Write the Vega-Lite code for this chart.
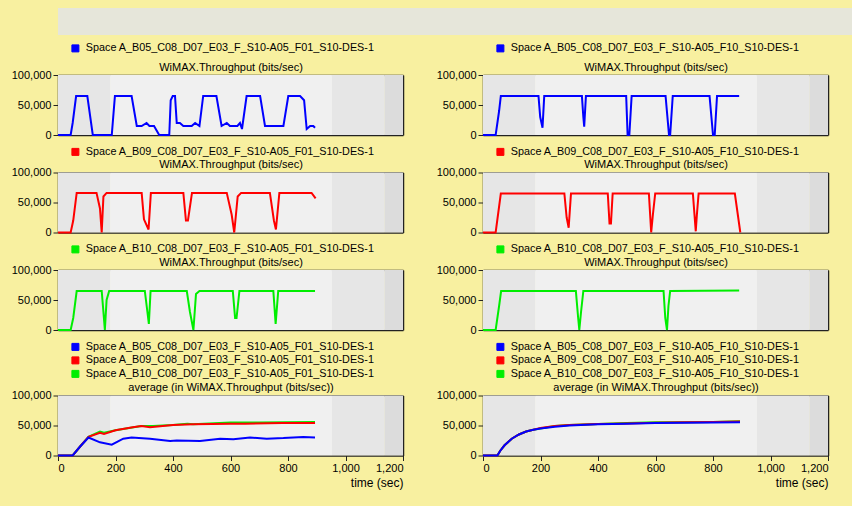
{
  "$schema": "https://vega.github.io/schema/vega-lite/v6.json",
  "background": "#f8f0a0",
  "padding": {"left": 11, "top": 8, "right": 0, "bottom": 17},
  "datasets": {
    "bands": [
      {"start": 0, "end": 181, "shade": "b"},
      {"start": 181, "end": 953, "shade": "a"},
      {"start": 953, "end": 1137, "shade": "b"},
      {"start": 1137, "end": 1200, "shade": "c"}
    ],
    "ts": [
      {"p":"L1","s":"Space A_B05_C08_D07_E03_F_S10-A05_F01_S10-DES-1","t":0,"v":0},
      {"p":"L1","s":"Space A_B05_C08_D07_E03_F_S10-A05_F01_S10-DES-1","t":44,"v":0},
      {"p":"L1","s":"Space A_B05_C08_D07_E03_F_S10-A05_F01_S10-DES-1","t":51,"v":20000},
      {"p":"L1","s":"Space A_B05_C08_D07_E03_F_S10-A05_F01_S10-DES-1","t":63,"v":65000},
      {"p":"L1","s":"Space A_B05_C08_D07_E03_F_S10-A05_F01_S10-DES-1","t":102,"v":65000},
      {"p":"L1","s":"Space A_B05_C08_D07_E03_F_S10-A05_F01_S10-DES-1","t":121,"v":0},
      {"p":"L1","s":"Space A_B05_C08_D07_E03_F_S10-A05_F01_S10-DES-1","t":187,"v":0},
      {"p":"L1","s":"Space A_B05_C08_D07_E03_F_S10-A05_F01_S10-DES-1","t":198,"v":65000},
      {"p":"L1","s":"Space A_B05_C08_D07_E03_F_S10-A05_F01_S10-DES-1","t":256,"v":65000},
      {"p":"L1","s":"Space A_B05_C08_D07_E03_F_S10-A05_F01_S10-DES-1","t":274,"v":15000},
      {"p":"L1","s":"Space A_B05_C08_D07_E03_F_S10-A05_F01_S10-DES-1","t":291,"v":15000},
      {"p":"L1","s":"Space A_B05_C08_D07_E03_F_S10-A05_F01_S10-DES-1","t":308,"v":20000},
      {"p":"L1","s":"Space A_B05_C08_D07_E03_F_S10-A05_F01_S10-DES-1","t":318,"v":15000},
      {"p":"L1","s":"Space A_B05_C08_D07_E03_F_S10-A05_F01_S10-DES-1","t":334,"v":15000},
      {"p":"L1","s":"Space A_B05_C08_D07_E03_F_S10-A05_F01_S10-DES-1","t":352,"v":0},
      {"p":"L1","s":"Space A_B05_C08_D07_E03_F_S10-A05_F01_S10-DES-1","t":387,"v":0},
      {"p":"L1","s":"Space A_B05_C08_D07_E03_F_S10-A05_F01_S10-DES-1","t":392,"v":58000},
      {"p":"L1","s":"Space A_B05_C08_D07_E03_F_S10-A05_F01_S10-DES-1","t":399,"v":65000},
      {"p":"L1","s":"Space A_B05_C08_D07_E03_F_S10-A05_F01_S10-DES-1","t":407,"v":65000},
      {"p":"L1","s":"Space A_B05_C08_D07_E03_F_S10-A05_F01_S10-DES-1","t":413,"v":20000},
      {"p":"L1","s":"Space A_B05_C08_D07_E03_F_S10-A05_F01_S10-DES-1","t":424,"v":20000},
      {"p":"L1","s":"Space A_B05_C08_D07_E03_F_S10-A05_F01_S10-DES-1","t":436,"v":15000},
      {"p":"L1","s":"Space A_B05_C08_D07_E03_F_S10-A05_F01_S10-DES-1","t":465,"v":15000},
      {"p":"L1","s":"Space A_B05_C08_D07_E03_F_S10-A05_F01_S10-DES-1","t":477,"v":20000},
      {"p":"L1","s":"Space A_B05_C08_D07_E03_F_S10-A05_F01_S10-DES-1","t":492,"v":15000},
      {"p":"L1","s":"Space A_B05_C08_D07_E03_F_S10-A05_F01_S10-DES-1","t":505,"v":65000},
      {"p":"L1","s":"Space A_B05_C08_D07_E03_F_S10-A05_F01_S10-DES-1","t":551,"v":65000},
      {"p":"L1","s":"Space A_B05_C08_D07_E03_F_S10-A05_F01_S10-DES-1","t":569,"v":15000},
      {"p":"L1","s":"Space A_B05_C08_D07_E03_F_S10-A05_F01_S10-DES-1","t":587,"v":20000},
      {"p":"L1","s":"Space A_B05_C08_D07_E03_F_S10-A05_F01_S10-DES-1","t":598,"v":15000},
      {"p":"L1","s":"Space A_B05_C08_D07_E03_F_S10-A05_F01_S10-DES-1","t":624,"v":15000},
      {"p":"L1","s":"Space A_B05_C08_D07_E03_F_S10-A05_F01_S10-DES-1","t":633,"v":20000},
      {"p":"L1","s":"Space A_B05_C08_D07_E03_F_S10-A05_F01_S10-DES-1","t":640,"v":10000},
      {"p":"L1","s":"Space A_B05_C08_D07_E03_F_S10-A05_F01_S10-DES-1","t":656,"v":65000},
      {"p":"L1","s":"Space A_B05_C08_D07_E03_F_S10-A05_F01_S10-DES-1","t":703,"v":65000},
      {"p":"L1","s":"Space A_B05_C08_D07_E03_F_S10-A05_F01_S10-DES-1","t":720,"v":15000},
      {"p":"L1","s":"Space A_B05_C08_D07_E03_F_S10-A05_F01_S10-DES-1","t":784,"v":15000},
      {"p":"L1","s":"Space A_B05_C08_D07_E03_F_S10-A05_F01_S10-DES-1","t":801,"v":65000},
      {"p":"L1","s":"Space A_B05_C08_D07_E03_F_S10-A05_F01_S10-DES-1","t":842,"v":65000},
      {"p":"L1","s":"Space A_B05_C08_D07_E03_F_S10-A05_F01_S10-DES-1","t":856,"v":58000},
      {"p":"L1","s":"Space A_B05_C08_D07_E03_F_S10-A05_F01_S10-DES-1","t":865,"v":10000},
      {"p":"L1","s":"Space A_B05_C08_D07_E03_F_S10-A05_F01_S10-DES-1","t":877,"v":15000},
      {"p":"L1","s":"Space A_B05_C08_D07_E03_F_S10-A05_F01_S10-DES-1","t":888,"v":15000},
      {"p":"L1","s":"Space A_B05_C08_D07_E03_F_S10-A05_F01_S10-DES-1","t":894,"v":12000},

      {"p":"L2","s":"Space A_B09_C08_D07_E03_F_S10-A05_F01_S10-DES-1","t":0,"v":0},
      {"p":"L2","s":"Space A_B09_C08_D07_E03_F_S10-A05_F01_S10-DES-1","t":44,"v":0},
      {"p":"L2","s":"Space A_B09_C08_D07_E03_F_S10-A05_F01_S10-DES-1","t":53,"v":20000},
      {"p":"L2","s":"Space A_B09_C08_D07_E03_F_S10-A05_F01_S10-DES-1","t":65,"v":66000},
      {"p":"L2","s":"Space A_B09_C08_D07_E03_F_S10-A05_F01_S10-DES-1","t":134,"v":66000},
      {"p":"L2","s":"Space A_B09_C08_D07_E03_F_S10-A05_F01_S10-DES-1","t":146,"v":40000},
      {"p":"L2","s":"Space A_B09_C08_D07_E03_F_S10-A05_F01_S10-DES-1","t":152,"v":0},
      {"p":"L2","s":"Space A_B09_C08_D07_E03_F_S10-A05_F01_S10-DES-1","t":158,"v":60000},
      {"p":"L2","s":"Space A_B09_C08_D07_E03_F_S10-A05_F01_S10-DES-1","t":169,"v":66000},
      {"p":"L2","s":"Space A_B09_C08_D07_E03_F_S10-A05_F01_S10-DES-1","t":291,"v":66000},
      {"p":"L2","s":"Space A_B09_C08_D07_E03_F_S10-A05_F01_S10-DES-1","t":299,"v":22000},
      {"p":"L2","s":"Space A_B09_C08_D07_E03_F_S10-A05_F01_S10-DES-1","t":315,"v":5000},
      {"p":"L2","s":"Space A_B09_C08_D07_E03_F_S10-A05_F01_S10-DES-1","t":323,"v":66000},
      {"p":"L2","s":"Space A_B09_C08_D07_E03_F_S10-A05_F01_S10-DES-1","t":436,"v":66000},
      {"p":"L2","s":"Space A_B09_C08_D07_E03_F_S10-A05_F01_S10-DES-1","t":445,"v":20000},
      {"p":"L2","s":"Space A_B09_C08_D07_E03_F_S10-A05_F01_S10-DES-1","t":452,"v":20000},
      {"p":"L2","s":"Space A_B09_C08_D07_E03_F_S10-A05_F01_S10-DES-1","t":466,"v":66000},
      {"p":"L2","s":"Space A_B09_C08_D07_E03_F_S10-A05_F01_S10-DES-1","t":587,"v":66000},
      {"p":"L2","s":"Space A_B09_C08_D07_E03_F_S10-A05_F01_S10-DES-1","t":604,"v":30000},
      {"p":"L2","s":"Space A_B09_C08_D07_E03_F_S10-A05_F01_S10-DES-1","t":613,"v":0},
      {"p":"L2","s":"Space A_B09_C08_D07_E03_F_S10-A05_F01_S10-DES-1","t":625,"v":60000},
      {"p":"L2","s":"Space A_B09_C08_D07_E03_F_S10-A05_F01_S10-DES-1","t":637,"v":66000},
      {"p":"L2","s":"Space A_B09_C08_D07_E03_F_S10-A05_F01_S10-DES-1","t":737,"v":66000},
      {"p":"L2","s":"Space A_B09_C08_D07_E03_F_S10-A05_F01_S10-DES-1","t":751,"v":20000},
      {"p":"L2","s":"Space A_B09_C08_D07_E03_F_S10-A05_F01_S10-DES-1","t":758,"v":5000},
      {"p":"L2","s":"Space A_B09_C08_D07_E03_F_S10-A05_F01_S10-DES-1","t":770,"v":66000},
      {"p":"L2","s":"Space A_B09_C08_D07_E03_F_S10-A05_F01_S10-DES-1","t":882,"v":66000},
      {"p":"L2","s":"Space A_B09_C08_D07_E03_F_S10-A05_F01_S10-DES-1","t":896,"v":57000},

      {"p":"L3","s":"Space A_B10_C08_D07_E03_F_S10-A05_F01_S10-DES-1","t":0,"v":0},
      {"p":"L3","s":"Space A_B10_C08_D07_E03_F_S10-A05_F01_S10-DES-1","t":44,"v":0},
      {"p":"L3","s":"Space A_B10_C08_D07_E03_F_S10-A05_F01_S10-DES-1","t":53,"v":20000},
      {"p":"L3","s":"Space A_B10_C08_D07_E03_F_S10-A05_F01_S10-DES-1","t":65,"v":65000},
      {"p":"L3","s":"Space A_B10_C08_D07_E03_F_S10-A05_F01_S10-DES-1","t":152,"v":65000},
      {"p":"L3","s":"Space A_B10_C08_D07_E03_F_S10-A05_F01_S10-DES-1","t":158,"v":30000},
      {"p":"L3","s":"Space A_B10_C08_D07_E03_F_S10-A05_F01_S10-DES-1","t":163,"v":0},
      {"p":"L3","s":"Space A_B10_C08_D07_E03_F_S10-A05_F01_S10-DES-1","t":169,"v":50000},
      {"p":"L3","s":"Space A_B10_C08_D07_E03_F_S10-A05_F01_S10-DES-1","t":178,"v":65000},
      {"p":"L3","s":"Space A_B10_C08_D07_E03_F_S10-A05_F01_S10-DES-1","t":302,"v":65000},
      {"p":"L3","s":"Space A_B10_C08_D07_E03_F_S10-A05_F01_S10-DES-1","t":311,"v":30000},
      {"p":"L3","s":"Space A_B10_C08_D07_E03_F_S10-A05_F01_S10-DES-1","t":316,"v":10000},
      {"p":"L3","s":"Space A_B10_C08_D07_E03_F_S10-A05_F01_S10-DES-1","t":322,"v":65000},
      {"p":"L3","s":"Space A_B10_C08_D07_E03_F_S10-A05_F01_S10-DES-1","t":448,"v":65000},
      {"p":"L3","s":"Space A_B10_C08_D07_E03_F_S10-A05_F01_S10-DES-1","t":459,"v":30000},
      {"p":"L3","s":"Space A_B10_C08_D07_E03_F_S10-A05_F01_S10-DES-1","t":471,"v":0},
      {"p":"L3","s":"Space A_B10_C08_D07_E03_F_S10-A05_F01_S10-DES-1","t":480,"v":60000},
      {"p":"L3","s":"Space A_B10_C08_D07_E03_F_S10-A05_F01_S10-DES-1","t":492,"v":65000},
      {"p":"L3","s":"Space A_B10_C08_D07_E03_F_S10-A05_F01_S10-DES-1","t":608,"v":65000},
      {"p":"L3","s":"Space A_B10_C08_D07_E03_F_S10-A05_F01_S10-DES-1","t":616,"v":20000},
      {"p":"L3","s":"Space A_B10_C08_D07_E03_F_S10-A05_F01_S10-DES-1","t":621,"v":20000},
      {"p":"L3","s":"Space A_B10_C08_D07_E03_F_S10-A05_F01_S10-DES-1","t":631,"v":65000},
      {"p":"L3","s":"Space A_B10_C08_D07_E03_F_S10-A05_F01_S10-DES-1","t":749,"v":65000},
      {"p":"L3","s":"Space A_B10_C08_D07_E03_F_S10-A05_F01_S10-DES-1","t":757,"v":10000},
      {"p":"L3","s":"Space A_B10_C08_D07_E03_F_S10-A05_F01_S10-DES-1","t":766,"v":65000},
      {"p":"L3","s":"Space A_B10_C08_D07_E03_F_S10-A05_F01_S10-DES-1","t":894,"v":65000},

      {"p":"L4","s":"Space A_B10_C08_D07_E03_F_S10-A05_F01_S10-DES-1","t":0,"v":0},
      {"p":"L4","s":"Space A_B10_C08_D07_E03_F_S10-A05_F01_S10-DES-1","t":51,"v":0},
      {"p":"L4","s":"Space A_B10_C08_D07_E03_F_S10-A05_F01_S10-DES-1","t":77,"v":15000},
      {"p":"L4","s":"Space A_B10_C08_D07_E03_F_S10-A05_F01_S10-DES-1","t":106,"v":31000},
      {"p":"L4","s":"Space A_B10_C08_D07_E03_F_S10-A05_F01_S10-DES-1","t":146,"v":40000},
      {"p":"L4","s":"Space A_B10_C08_D07_E03_F_S10-A05_F01_S10-DES-1","t":160,"v":38000},
      {"p":"L4","s":"Space A_B10_C08_D07_E03_F_S10-A05_F01_S10-DES-1","t":200,"v":42000},
      {"p":"L4","s":"Space A_B10_C08_D07_E03_F_S10-A05_F01_S10-DES-1","t":290,"v":49000},
      {"p":"L4","s":"Space A_B10_C08_D07_E03_F_S10-A05_F01_S10-DES-1","t":330,"v":49000},
      {"p":"L4","s":"Space A_B10_C08_D07_E03_F_S10-A05_F01_S10-DES-1","t":400,"v":51000},
      {"p":"L4","s":"Space A_B10_C08_D07_E03_F_S10-A05_F01_S10-DES-1","t":450,"v":53000},
      {"p":"L4","s":"Space A_B10_C08_D07_E03_F_S10-A05_F01_S10-DES-1","t":470,"v":52000},
      {"p":"L4","s":"Space A_B10_C08_D07_E03_F_S10-A05_F01_S10-DES-1","t":600,"v":55000},
      {"p":"L4","s":"Space A_B10_C08_D07_E03_F_S10-A05_F01_S10-DES-1","t":700,"v":55000},
      {"p":"L4","s":"Space A_B10_C08_D07_E03_F_S10-A05_F01_S10-DES-1","t":894,"v":56000},
      {"p":"L4","s":"Space A_B09_C08_D07_E03_F_S10-A05_F01_S10-DES-1","t":0,"v":0},
      {"p":"L4","s":"Space A_B09_C08_D07_E03_F_S10-A05_F01_S10-DES-1","t":51,"v":0},
      {"p":"L4","s":"Space A_B09_C08_D07_E03_F_S10-A05_F01_S10-DES-1","t":77,"v":15000},
      {"p":"L4","s":"Space A_B09_C08_D07_E03_F_S10-A05_F01_S10-DES-1","t":106,"v":31000},
      {"p":"L4","s":"Space A_B09_C08_D07_E03_F_S10-A05_F01_S10-DES-1","t":146,"v":38000},
      {"p":"L4","s":"Space A_B09_C08_D07_E03_F_S10-A05_F01_S10-DES-1","t":160,"v":36000},
      {"p":"L4","s":"Space A_B09_C08_D07_E03_F_S10-A05_F01_S10-DES-1","t":200,"v":42000},
      {"p":"L4","s":"Space A_B09_C08_D07_E03_F_S10-A05_F01_S10-DES-1","t":260,"v":47000},
      {"p":"L4","s":"Space A_B09_C08_D07_E03_F_S10-A05_F01_S10-DES-1","t":290,"v":49000},
      {"p":"L4","s":"Space A_B09_C08_D07_E03_F_S10-A05_F01_S10-DES-1","t":320,"v":47000},
      {"p":"L4","s":"Space A_B09_C08_D07_E03_F_S10-A05_F01_S10-DES-1","t":400,"v":51000},
      {"p":"L4","s":"Space A_B09_C08_D07_E03_F_S10-A05_F01_S10-DES-1","t":470,"v":52000},
      {"p":"L4","s":"Space A_B09_C08_D07_E03_F_S10-A05_F01_S10-DES-1","t":600,"v":53000},
      {"p":"L4","s":"Space A_B09_C08_D07_E03_F_S10-A05_F01_S10-DES-1","t":650,"v":53000},
      {"p":"L4","s":"Space A_B09_C08_D07_E03_F_S10-A05_F01_S10-DES-1","t":780,"v":54000},
      {"p":"L4","s":"Space A_B09_C08_D07_E03_F_S10-A05_F01_S10-DES-1","t":894,"v":54000},
      {"p":"L4","s":"Space A_B05_C08_D07_E03_F_S10-A05_F01_S10-DES-1","t":0,"v":0},
      {"p":"L4","s":"Space A_B05_C08_D07_E03_F_S10-A05_F01_S10-DES-1","t":51,"v":0},
      {"p":"L4","s":"Space A_B05_C08_D07_E03_F_S10-A05_F01_S10-DES-1","t":77,"v":15000},
      {"p":"L4","s":"Space A_B05_C08_D07_E03_F_S10-A05_F01_S10-DES-1","t":106,"v":30000},
      {"p":"L4","s":"Space A_B05_C08_D07_E03_F_S10-A05_F01_S10-DES-1","t":146,"v":22000},
      {"p":"L4","s":"Space A_B05_C08_D07_E03_F_S10-A05_F01_S10-DES-1","t":187,"v":18000},
      {"p":"L4","s":"Space A_B05_C08_D07_E03_F_S10-A05_F01_S10-DES-1","t":227,"v":28000},
      {"p":"L4","s":"Space A_B05_C08_D07_E03_F_S10-A05_F01_S10-DES-1","t":256,"v":30000},
      {"p":"L4","s":"Space A_B05_C08_D07_E03_F_S10-A05_F01_S10-DES-1","t":320,"v":28000},
      {"p":"L4","s":"Space A_B05_C08_D07_E03_F_S10-A05_F01_S10-DES-1","t":390,"v":24000},
      {"p":"L4","s":"Space A_B05_C08_D07_E03_F_S10-A05_F01_S10-DES-1","t":413,"v":25000},
      {"p":"L4","s":"Space A_B05_C08_D07_E03_F_S10-A05_F01_S10-DES-1","t":494,"v":24000},
      {"p":"L4","s":"Space A_B05_C08_D07_E03_F_S10-A05_F01_S10-DES-1","t":564,"v":28000},
      {"p":"L4","s":"Space A_B05_C08_D07_E03_F_S10-A05_F01_S10-DES-1","t":610,"v":27000},
      {"p":"L4","s":"Space A_B05_C08_D07_E03_F_S10-A05_F01_S10-DES-1","t":668,"v":30000},
      {"p":"L4","s":"Space A_B05_C08_D07_E03_F_S10-A05_F01_S10-DES-1","t":726,"v":28000},
      {"p":"L4","s":"Space A_B05_C08_D07_E03_F_S10-A05_F01_S10-DES-1","t":784,"v":29000},
      {"p":"L4","s":"Space A_B05_C08_D07_E03_F_S10-A05_F01_S10-DES-1","t":853,"v":31000},
      {"p":"L4","s":"Space A_B05_C08_D07_E03_F_S10-A05_F01_S10-DES-1","t":894,"v":30000},

      {"p":"R1","s":"Space A_B05_C08_D07_E03_F_S10-A05_F10_S10-DES-1","t":0,"v":0},
      {"p":"R1","s":"Space A_B05_C08_D07_E03_F_S10-A05_F10_S10-DES-1","t":44,"v":0},
      {"p":"R1","s":"Space A_B05_C08_D07_E03_F_S10-A05_F10_S10-DES-1","t":56,"v":40000},
      {"p":"R1","s":"Space A_B05_C08_D07_E03_F_S10-A05_F10_S10-DES-1","t":62,"v":65000},
      {"p":"R1","s":"Space A_B05_C08_D07_E03_F_S10-A05_F10_S10-DES-1","t":193,"v":65000},
      {"p":"R1","s":"Space A_B05_C08_D07_E03_F_S10-A05_F10_S10-DES-1","t":199,"v":30000},
      {"p":"R1","s":"Space A_B05_C08_D07_E03_F_S10-A05_F10_S10-DES-1","t":207,"v":12000},
      {"p":"R1","s":"Space A_B05_C08_D07_E03_F_S10-A05_F10_S10-DES-1","t":213,"v":65000},
      {"p":"R1","s":"Space A_B05_C08_D07_E03_F_S10-A05_F10_S10-DES-1","t":344,"v":65000},
      {"p":"R1","s":"Space A_B05_C08_D07_E03_F_S10-A05_F10_S10-DES-1","t":349,"v":30000},
      {"p":"R1","s":"Space A_B05_C08_D07_E03_F_S10-A05_F10_S10-DES-1","t":352,"v":14000},
      {"p":"R1","s":"Space A_B05_C08_D07_E03_F_S10-A05_F10_S10-DES-1","t":358,"v":65000},
      {"p":"R1","s":"Space A_B05_C08_D07_E03_F_S10-A05_F10_S10-DES-1","t":498,"v":65000},
      {"p":"R1","s":"Space A_B05_C08_D07_E03_F_S10-A05_F10_S10-DES-1","t":503,"v":0},
      {"p":"R1","s":"Space A_B05_C08_D07_E03_F_S10-A05_F10_S10-DES-1","t":509,"v":0},
      {"p":"R1","s":"Space A_B05_C08_D07_E03_F_S10-A05_F10_S10-DES-1","t":517,"v":65000},
      {"p":"R1","s":"Space A_B05_C08_D07_E03_F_S10-A05_F10_S10-DES-1","t":635,"v":65000},
      {"p":"R1","s":"Space A_B05_C08_D07_E03_F_S10-A05_F10_S10-DES-1","t":647,"v":0},
      {"p":"R1","s":"Space A_B05_C08_D07_E03_F_S10-A05_F10_S10-DES-1","t":651,"v":0},
      {"p":"R1","s":"Space A_B05_C08_D07_E03_F_S10-A05_F10_S10-DES-1","t":660,"v":65000},
      {"p":"R1","s":"Space A_B05_C08_D07_E03_F_S10-A05_F10_S10-DES-1","t":788,"v":65000},
      {"p":"R1","s":"Space A_B05_C08_D07_E03_F_S10-A05_F10_S10-DES-1","t":800,"v":0},
      {"p":"R1","s":"Space A_B05_C08_D07_E03_F_S10-A05_F10_S10-DES-1","t":806,"v":0},
      {"p":"R1","s":"Space A_B05_C08_D07_E03_F_S10-A05_F10_S10-DES-1","t":814,"v":65000},
      {"p":"R1","s":"Space A_B05_C08_D07_E03_F_S10-A05_F10_S10-DES-1","t":891,"v":65000},

      {"p":"R2","s":"Space A_B09_C08_D07_E03_F_S10-A05_F10_S10-DES-1","t":0,"v":0},
      {"p":"R2","s":"Space A_B09_C08_D07_E03_F_S10-A05_F10_S10-DES-1","t":44,"v":0},
      {"p":"R2","s":"Space A_B09_C08_D07_E03_F_S10-A05_F10_S10-DES-1","t":62,"v":65000},
      {"p":"R2","s":"Space A_B09_C08_D07_E03_F_S10-A05_F10_S10-DES-1","t":283,"v":65000},
      {"p":"R2","s":"Space A_B09_C08_D07_E03_F_S10-A05_F10_S10-DES-1","t":291,"v":25000},
      {"p":"R2","s":"Space A_B09_C08_D07_E03_F_S10-A05_F10_S10-DES-1","t":298,"v":8000},
      {"p":"R2","s":"Space A_B09_C08_D07_E03_F_S10-A05_F10_S10-DES-1","t":306,"v":65000},
      {"p":"R2","s":"Space A_B09_C08_D07_E03_F_S10-A05_F10_S10-DES-1","t":434,"v":65000},
      {"p":"R2","s":"Space A_B09_C08_D07_E03_F_S10-A05_F10_S10-DES-1","t":440,"v":15000},
      {"p":"R2","s":"Space A_B09_C08_D07_E03_F_S10-A05_F10_S10-DES-1","t":445,"v":15000},
      {"p":"R2","s":"Space A_B09_C08_D07_E03_F_S10-A05_F10_S10-DES-1","t":451,"v":65000},
      {"p":"R2","s":"Space A_B09_C08_D07_E03_F_S10-A05_F10_S10-DES-1","t":577,"v":65000},
      {"p":"R2","s":"Space A_B09_C08_D07_E03_F_S10-A05_F10_S10-DES-1","t":585,"v":0},
      {"p":"R2","s":"Space A_B09_C08_D07_E03_F_S10-A05_F10_S10-DES-1","t":591,"v":30000},
      {"p":"R2","s":"Space A_B09_C08_D07_E03_F_S10-A05_F10_S10-DES-1","t":599,"v":65000},
      {"p":"R2","s":"Space A_B09_C08_D07_E03_F_S10-A05_F10_S10-DES-1","t":730,"v":65000},
      {"p":"R2","s":"Space A_B09_C08_D07_E03_F_S10-A05_F10_S10-DES-1","t":740,"v":2000},
      {"p":"R2","s":"Space A_B09_C08_D07_E03_F_S10-A05_F10_S10-DES-1","t":744,"v":30000},
      {"p":"R2","s":"Space A_B09_C08_D07_E03_F_S10-A05_F10_S10-DES-1","t":750,"v":65000},
      {"p":"R2","s":"Space A_B09_C08_D07_E03_F_S10-A05_F10_S10-DES-1","t":876,"v":65000},
      {"p":"R2","s":"Space A_B09_C08_D07_E03_F_S10-A05_F10_S10-DES-1","t":895,"v":0},

      {"p":"R3","s":"Space A_B10_C08_D07_E03_F_S10-A05_F10_S10-DES-1","t":0,"v":0},
      {"p":"R3","s":"Space A_B10_C08_D07_E03_F_S10-A05_F10_S10-DES-1","t":44,"v":0},
      {"p":"R3","s":"Space A_B10_C08_D07_E03_F_S10-A05_F10_S10-DES-1","t":56,"v":40000},
      {"p":"R3","s":"Space A_B10_C08_D07_E03_F_S10-A05_F10_S10-DES-1","t":63,"v":65000},
      {"p":"R3","s":"Space A_B10_C08_D07_E03_F_S10-A05_F10_S10-DES-1","t":323,"v":65000},
      {"p":"R3","s":"Space A_B10_C08_D07_E03_F_S10-A05_F10_S10-DES-1","t":331,"v":20000},
      {"p":"R3","s":"Space A_B10_C08_D07_E03_F_S10-A05_F10_S10-DES-1","t":335,"v":0},
      {"p":"R3","s":"Space A_B10_C08_D07_E03_F_S10-A05_F10_S10-DES-1","t":341,"v":30000},
      {"p":"R3","s":"Space A_B10_C08_D07_E03_F_S10-A05_F10_S10-DES-1","t":349,"v":65000},
      {"p":"R3","s":"Space A_B10_C08_D07_E03_F_S10-A05_F10_S10-DES-1","t":628,"v":65000},
      {"p":"R3","s":"Space A_B10_C08_D07_E03_F_S10-A05_F10_S10-DES-1","t":634,"v":20000},
      {"p":"R3","s":"Space A_B10_C08_D07_E03_F_S10-A05_F10_S10-DES-1","t":640,"v":0},
      {"p":"R3","s":"Space A_B10_C08_D07_E03_F_S10-A05_F10_S10-DES-1","t":645,"v":40000},
      {"p":"R3","s":"Space A_B10_C08_D07_E03_F_S10-A05_F10_S10-DES-1","t":651,"v":65000},
      {"p":"R3","s":"Space A_B10_C08_D07_E03_F_S10-A05_F10_S10-DES-1","t":891,"v":66000},

      {"p":"R4","s":"Space A_B10_C08_D07_E03_F_S10-A05_F10_S10-DES-1","t":0,"v":0},
      {"p":"R4","s":"Space A_B10_C08_D07_E03_F_S10-A05_F10_S10-DES-1","t":50,"v":0},
      {"p":"R4","s":"Space A_B10_C08_D07_E03_F_S10-A05_F10_S10-DES-1","t":60,"v":8000},
      {"p":"R4","s":"Space A_B10_C08_D07_E03_F_S10-A05_F10_S10-DES-1","t":75,"v":17000},
      {"p":"R4","s":"Space A_B10_C08_D07_E03_F_S10-A05_F10_S10-DES-1","t":100,"v":28000},
      {"p":"R4","s":"Space A_B10_C08_D07_E03_F_S10-A05_F10_S10-DES-1","t":125,"v":35000},
      {"p":"R4","s":"Space A_B10_C08_D07_E03_F_S10-A05_F10_S10-DES-1","t":150,"v":40000},
      {"p":"R4","s":"Space A_B10_C08_D07_E03_F_S10-A05_F10_S10-DES-1","t":175,"v":43000},
      {"p":"R4","s":"Space A_B10_C08_D07_E03_F_S10-A05_F10_S10-DES-1","t":200,"v":45000},
      {"p":"R4","s":"Space A_B10_C08_D07_E03_F_S10-A05_F10_S10-DES-1","t":250,"v":49000},
      {"p":"R4","s":"Space A_B10_C08_D07_E03_F_S10-A05_F10_S10-DES-1","t":300,"v":51000},
      {"p":"R4","s":"Space A_B10_C08_D07_E03_F_S10-A05_F10_S10-DES-1","t":400,"v":52500},
      {"p":"R4","s":"Space A_B10_C08_D07_E03_F_S10-A05_F10_S10-DES-1","t":500,"v":54000},
      {"p":"R4","s":"Space A_B10_C08_D07_E03_F_S10-A05_F10_S10-DES-1","t":600,"v":55500},
      {"p":"R4","s":"Space A_B10_C08_D07_E03_F_S10-A05_F10_S10-DES-1","t":700,"v":55500},
      {"p":"R4","s":"Space A_B10_C08_D07_E03_F_S10-A05_F10_S10-DES-1","t":800,"v":56000},
      {"p":"R4","s":"Space A_B10_C08_D07_E03_F_S10-A05_F10_S10-DES-1","t":894,"v":57000},
      {"p":"R4","s":"Space A_B09_C08_D07_E03_F_S10-A05_F10_S10-DES-1","t":0,"v":0},
      {"p":"R4","s":"Space A_B09_C08_D07_E03_F_S10-A05_F10_S10-DES-1","t":50,"v":0},
      {"p":"R4","s":"Space A_B09_C08_D07_E03_F_S10-A05_F10_S10-DES-1","t":60,"v":8000},
      {"p":"R4","s":"Space A_B09_C08_D07_E03_F_S10-A05_F10_S10-DES-1","t":75,"v":17000},
      {"p":"R4","s":"Space A_B09_C08_D07_E03_F_S10-A05_F10_S10-DES-1","t":100,"v":28000},
      {"p":"R4","s":"Space A_B09_C08_D07_E03_F_S10-A05_F10_S10-DES-1","t":125,"v":35000},
      {"p":"R4","s":"Space A_B09_C08_D07_E03_F_S10-A05_F10_S10-DES-1","t":150,"v":40000},
      {"p":"R4","s":"Space A_B09_C08_D07_E03_F_S10-A05_F10_S10-DES-1","t":175,"v":43000},
      {"p":"R4","s":"Space A_B09_C08_D07_E03_F_S10-A05_F10_S10-DES-1","t":200,"v":46000},
      {"p":"R4","s":"Space A_B09_C08_D07_E03_F_S10-A05_F10_S10-DES-1","t":250,"v":49000},
      {"p":"R4","s":"Space A_B09_C08_D07_E03_F_S10-A05_F10_S10-DES-1","t":300,"v":51000},
      {"p":"R4","s":"Space A_B09_C08_D07_E03_F_S10-A05_F10_S10-DES-1","t":400,"v":52500},
      {"p":"R4","s":"Space A_B09_C08_D07_E03_F_S10-A05_F10_S10-DES-1","t":500,"v":53500},
      {"p":"R4","s":"Space A_B09_C08_D07_E03_F_S10-A05_F10_S10-DES-1","t":600,"v":54500},
      {"p":"R4","s":"Space A_B09_C08_D07_E03_F_S10-A05_F10_S10-DES-1","t":700,"v":55500},
      {"p":"R4","s":"Space A_B09_C08_D07_E03_F_S10-A05_F10_S10-DES-1","t":800,"v":56000},
      {"p":"R4","s":"Space A_B09_C08_D07_E03_F_S10-A05_F10_S10-DES-1","t":894,"v":56500},
      {"p":"R4","s":"Space A_B05_C08_D07_E03_F_S10-A05_F10_S10-DES-1","t":0,"v":0},
      {"p":"R4","s":"Space A_B05_C08_D07_E03_F_S10-A05_F10_S10-DES-1","t":50,"v":0},
      {"p":"R4","s":"Space A_B05_C08_D07_E03_F_S10-A05_F10_S10-DES-1","t":60,"v":8000},
      {"p":"R4","s":"Space A_B05_C08_D07_E03_F_S10-A05_F10_S10-DES-1","t":75,"v":17000},
      {"p":"R4","s":"Space A_B05_C08_D07_E03_F_S10-A05_F10_S10-DES-1","t":100,"v":28000},
      {"p":"R4","s":"Space A_B05_C08_D07_E03_F_S10-A05_F10_S10-DES-1","t":125,"v":35000},
      {"p":"R4","s":"Space A_B05_C08_D07_E03_F_S10-A05_F10_S10-DES-1","t":150,"v":40000},
      {"p":"R4","s":"Space A_B05_C08_D07_E03_F_S10-A05_F10_S10-DES-1","t":175,"v":43000},
      {"p":"R4","s":"Space A_B05_C08_D07_E03_F_S10-A05_F10_S10-DES-1","t":200,"v":45000},
      {"p":"R4","s":"Space A_B05_C08_D07_E03_F_S10-A05_F10_S10-DES-1","t":250,"v":48000},
      {"p":"R4","s":"Space A_B05_C08_D07_E03_F_S10-A05_F10_S10-DES-1","t":300,"v":50000},
      {"p":"R4","s":"Space A_B05_C08_D07_E03_F_S10-A05_F10_S10-DES-1","t":400,"v":52000},
      {"p":"R4","s":"Space A_B05_C08_D07_E03_F_S10-A05_F10_S10-DES-1","t":500,"v":53000},
      {"p":"R4","s":"Space A_B05_C08_D07_E03_F_S10-A05_F10_S10-DES-1","t":600,"v":54000},
      {"p":"R4","s":"Space A_B05_C08_D07_E03_F_S10-A05_F10_S10-DES-1","t":700,"v":54500},
      {"p":"R4","s":"Space A_B05_C08_D07_E03_F_S10-A05_F10_S10-DES-1","t":800,"v":55000},
      {"p":"R4","s":"Space A_B05_C08_D07_E03_F_S10-A05_F10_S10-DES-1","t":894,"v":55500}
    ]
  },
  "vconcat": [
    {
      "width": 841, "height": 27,
      "data": {"values": [{}]},
      "mark": {"type": "text", "text": ""},
      "encoding": {},
      "view": {"fill": "#e6e6da", "stroke": null}
    },
    {
      "hconcat": [
        {
          "vconcat": [
            {
              "width": 345, "height": 60,
              "layer": [
                {"data": {"name": "bands"}, "mark": "rect",
                 "encoding": {
                   "x": {"field": "start", "type": "quantitative", "scale": {"domain": [0, 1200], "nice": false}, "axis": {"orient": "top", "labels": false, "ticks": false, "grid": false, "title": "WiMAX.Throughput (bits/sec)", "titlePadding": 3}},
                   "x2": {"field": "end"},
                   "y": {"datum": 0, "type": "quantitative", "scale": {"domain": [0, 100000], "nice": false}, "axis": {"orient": "right", "labels": false, "ticks": false, "grid": false, "title": null}},
                   "y2": {"datum": 100000},
                   "fill": {"field": "shade", "type": "nominal", "scale": {"domain": ["a", "b", "c"], "range": ["#f0f0f0", "#e6e6e6", "#dcdcdc"]}, "legend": null}
                 }},
                {"data": {"name": "ts"}, "transform": [{"filter": "datum.p == 'L1'"}],
                 "mark": {"type": "point", "shape": "square", "filled": true, "opacity": 0},
                 "encoding": {
                   "x": {"field": "t", "type": "quantitative", "axis": null},
                   "y": {"field": "v", "type": "quantitative", "axis": null},
                   "color": {"field": "s", "type": "nominal", "scale": {"domain": ["Space A_B05_C08_D07_E03_F_S10-A05_F01_S10-DES-1"], "range": ["#0000ff"]}, "legend": {"title": null, "orient": "none", "legendX": 12, "legendY": -32, "symbolType": "square"}}
                 }},
                {"data": {"name": "ts"}, "transform": [{"filter": "datum.p == 'L1'"}],
                 "mark": {"type": "line", "strokeWidth": 2},
                 "encoding": {
                   "x": {"field": "t", "type": "quantitative", "scale": {"domain": [0, 1200], "nice": false}, "axis": {"orient": "bottom", "labels": false, "ticks": false, "title": null, "values": [200, 400, 600, 800, 1000]}},
                   "y": {"field": "v", "type": "quantitative", "scale": {"domain": [0, 100000], "nice": false}, "axis": {"orient": "left", "values": [0, 50000, 100000], "format": ",.0f", "title": null}},
                   "color": {"field": "s", "type": "nominal", "scale": {"domain": ["Space A_B05_C08_D07_E03_F_S10-A05_F01_S10-DES-1"], "range": ["#0000ff"]}}
                 }}
              ],
              "resolve": {"axis": {"x": "independent", "y": "independent"}}
            },
            {
              "width": 345, "height": 60,
              "layer": [
                {"data": {"name": "bands"}, "mark": "rect",
                 "encoding": {
                   "x": {"field": "start", "type": "quantitative", "scale": {"domain": [0, 1200], "nice": false}, "axis": {"orient": "top", "labels": false, "ticks": false, "grid": false, "title": "WiMAX.Throughput (bits/sec)", "titlePadding": 3}},
                   "x2": {"field": "end"},
                   "y": {"datum": 0, "type": "quantitative", "scale": {"domain": [0, 100000], "nice": false}, "axis": {"orient": "right", "labels": false, "ticks": false, "grid": false, "title": null}},
                   "y2": {"datum": 100000},
                   "fill": {"field": "shade", "type": "nominal", "scale": {"domain": ["a", "b", "c"], "range": ["#f0f0f0", "#e6e6e6", "#dcdcdc"]}, "legend": null}
                 }},
                {"data": {"name": "ts"}, "transform": [{"filter": "datum.p == 'L2'"}],
                 "mark": {"type": "point", "shape": "square", "filled": true, "opacity": 0},
                 "encoding": {
                   "x": {"field": "t", "type": "quantitative", "axis": null},
                   "y": {"field": "v", "type": "quantitative", "axis": null},
                   "color": {"field": "s", "type": "nominal", "scale": {"domain": ["Space A_B09_C08_D07_E03_F_S10-A05_F01_S10-DES-1"], "range": ["#ff0000"]}, "legend": {"title": null, "orient": "none", "legendX": 12, "legendY": -26, "symbolType": "square"}}
                 }},
                {"data": {"name": "ts"}, "transform": [{"filter": "datum.p == 'L2'"}],
                 "mark": {"type": "line", "strokeWidth": 2},
                 "encoding": {
                   "x": {"field": "t", "type": "quantitative", "scale": {"domain": [0, 1200], "nice": false}, "axis": {"orient": "bottom", "labels": false, "ticks": false, "title": null, "values": [200, 400, 600, 800, 1000]}},
                   "y": {"field": "v", "type": "quantitative", "scale": {"domain": [0, 100000], "nice": false}, "axis": {"orient": "left", "values": [0, 50000, 100000], "format": ",.0f", "title": null}},
                   "color": {"field": "s", "type": "nominal", "scale": {"domain": ["Space A_B09_C08_D07_E03_F_S10-A05_F01_S10-DES-1"], "range": ["#ff0000"]}}
                 }}
              ],
              "resolve": {"axis": {"x": "independent", "y": "independent"}}
            },
            {
              "width": 345, "height": 60,
              "layer": [
                {"data": {"name": "bands"}, "mark": "rect",
                 "encoding": {
                   "x": {"field": "start", "type": "quantitative", "scale": {"domain": [0, 1200], "nice": false}, "axis": {"orient": "top", "labels": false, "ticks": false, "grid": false, "title": "WiMAX.Throughput (bits/sec)", "titlePadding": 3}},
                   "x2": {"field": "end"},
                   "y": {"datum": 0, "type": "quantitative", "scale": {"domain": [0, 100000], "nice": false}, "axis": {"orient": "right", "labels": false, "ticks": false, "grid": false, "title": null}},
                   "y2": {"datum": 100000},
                   "fill": {"field": "shade", "type": "nominal", "scale": {"domain": ["a", "b", "c"], "range": ["#f0f0f0", "#e6e6e6", "#dcdcdc"]}, "legend": null}
                 }},
                {"data": {"name": "ts"}, "transform": [{"filter": "datum.p == 'L3'"}],
                 "mark": {"type": "point", "shape": "square", "filled": true, "opacity": 0},
                 "encoding": {
                   "x": {"field": "t", "type": "quantitative", "axis": null},
                   "y": {"field": "v", "type": "quantitative", "axis": null},
                   "color": {"field": "s", "type": "nominal", "scale": {"domain": ["Space A_B10_C08_D07_E03_F_S10-A05_F01_S10-DES-1"], "range": ["#00ee00"]}, "legend": {"title": null, "orient": "none", "legendX": 12, "legendY": -26, "symbolType": "square"}}
                 }},
                {"data": {"name": "ts"}, "transform": [{"filter": "datum.p == 'L3'"}],
                 "mark": {"type": "line", "strokeWidth": 2},
                 "encoding": {
                   "x": {"field": "t", "type": "quantitative", "scale": {"domain": [0, 1200], "nice": false}, "axis": {"orient": "bottom", "labels": false, "ticks": false, "title": null, "values": [200, 400, 600, 800, 1000]}},
                   "y": {"field": "v", "type": "quantitative", "scale": {"domain": [0, 100000], "nice": false}, "axis": {"orient": "left", "values": [0, 50000, 100000], "format": ",.0f", "title": null}},
                   "color": {"field": "s", "type": "nominal", "scale": {"domain": ["Space A_B10_C08_D07_E03_F_S10-A05_F01_S10-DES-1"], "range": ["#00ee00"]}}
                 }}
              ],
              "resolve": {"axis": {"x": "independent", "y": "independent"}}
            },
            {
              "width": 345, "height": 60,
              "layer": [
                {"data": {"name": "bands"}, "mark": "rect",
                 "encoding": {
                   "x": {"field": "start", "type": "quantitative", "scale": {"domain": [0, 1200], "nice": false}, "axis": {"orient": "top", "labels": false, "ticks": false, "grid": false, "title": "average (in WiMAX.Throughput (bits/sec))", "titlePadding": 3}},
                   "x2": {"field": "end"},
                   "y": {"datum": 0, "type": "quantitative", "scale": {"domain": [0, 100000], "nice": false}, "axis": {"orient": "right", "labels": false, "ticks": false, "grid": false, "title": null}},
                   "y2": {"datum": 100000},
                   "fill": {"field": "shade", "type": "nominal", "scale": {"domain": ["a", "b", "c"], "range": ["#f0f0f0", "#e6e6e6", "#dcdcdc"]}, "legend": null}
                 }},
                {"data": {"name": "ts"}, "transform": [{"filter": "datum.p == 'L4'"}],
                 "mark": {"type": "point", "shape": "square", "filled": true, "opacity": 0},
                 "encoding": {
                   "x": {"field": "t", "type": "quantitative", "axis": null},
                   "y": {"field": "v", "type": "quantitative", "axis": null},
                   "color": {"field": "s", "type": "nominal", "scale": {"domain": ["Space A_B05_C08_D07_E03_F_S10-A05_F01_S10-DES-1", "Space A_B09_C08_D07_E03_F_S10-A05_F01_S10-DES-1", "Space A_B10_C08_D07_E03_F_S10-A05_F01_S10-DES-1"], "range": ["#0000ff", "#ff0000", "#00ee00"]}, "legend": {"title": null, "orient": "none", "legendX": 12, "legendY": -54, "symbolType": "square"}}
                 }},
                {"data": {"name": "ts"}, "transform": [{"filter": "datum.p == 'L4'"}],
                 "mark": {"type": "line", "strokeWidth": 2},
                 "encoding": {
                   "x": {"field": "t", "type": "quantitative", "scale": {"domain": [0, 1200], "nice": false}, "axis": {"orient": "bottom", "values": [0, 200, 400, 600, 800, 1000, 1200], "format": ",.0f", "title": "time (sec)", "titleAnchor": "end", "titleFontSize": 12, "titlePadding": 4, "gridOpacity": {"condition": {"test": "datum.value == 0 || datum.value == 1200", "value": 0}, "value": 1}}},
                   "y": {"field": "v", "type": "quantitative", "scale": {"domain": [0, 100000], "nice": false}, "axis": {"orient": "left", "values": [0, 50000, 100000], "format": ",.0f", "title": null}},
                   "color": {"field": "s", "type": "nominal", "scale": {"domain": ["Space A_B05_C08_D07_E03_F_S10-A05_F01_S10-DES-1", "Space A_B09_C08_D07_E03_F_S10-A05_F01_S10-DES-1", "Space A_B10_C08_D07_E03_F_S10-A05_F01_S10-DES-1"], "range": ["#0000ff", "#ff0000", "#00ee00"]}}
                 }}
              ],
              "resolve": {"axis": {"x": "independent", "y": "independent"}}
            }
          ],
          "spacing": 6.5,
          "resolve": {"scale": {"color": "independent"}}
        },
        {
          "vconcat": [
            {
              "width": 345, "height": 60,
              "layer": [
                {"data": {"name": "bands"}, "mark": "rect",
                 "encoding": {
                   "x": {"field": "start", "type": "quantitative", "scale": {"domain": [0, 1200], "nice": false}, "axis": {"orient": "top", "labels": false, "ticks": false, "grid": false, "title": "WiMAX.Throughput (bits/sec)", "titlePadding": 3}},
                   "x2": {"field": "end"},
                   "y": {"datum": 0, "type": "quantitative", "scale": {"domain": [0, 100000], "nice": false}, "axis": {"orient": "right", "labels": false, "ticks": false, "grid": false, "title": null}},
                   "y2": {"datum": 100000},
                   "fill": {"field": "shade", "type": "nominal", "scale": {"domain": ["a", "b", "c"], "range": ["#f0f0f0", "#e6e6e6", "#dcdcdc"]}, "legend": null}
                 }},
                {"data": {"name": "ts"}, "transform": [{"filter": "datum.p == 'R1'"}],
                 "mark": {"type": "point", "shape": "square", "filled": true, "opacity": 0},
                 "encoding": {
                   "x": {"field": "t", "type": "quantitative", "axis": null},
                   "y": {"field": "v", "type": "quantitative", "axis": null},
                   "color": {"field": "s", "type": "nominal", "scale": {"domain": ["Space A_B05_C08_D07_E03_F_S10-A05_F10_S10-DES-1"], "range": ["#0000ff"]}, "legend": {"title": null, "orient": "none", "legendX": 12, "legendY": -32, "symbolType": "square"}}
                 }},
                {"data": {"name": "ts"}, "transform": [{"filter": "datum.p == 'R1'"}],
                 "mark": {"type": "line", "strokeWidth": 2},
                 "encoding": {
                   "x": {"field": "t", "type": "quantitative", "scale": {"domain": [0, 1200], "nice": false}, "axis": {"orient": "bottom", "labels": false, "ticks": false, "title": null, "values": [200, 400, 600, 800, 1000]}},
                   "y": {"field": "v", "type": "quantitative", "scale": {"domain": [0, 100000], "nice": false}, "axis": {"orient": "left", "values": [0, 50000, 100000], "format": ",.0f", "title": null}},
                   "color": {"field": "s", "type": "nominal", "scale": {"domain": ["Space A_B05_C08_D07_E03_F_S10-A05_F10_S10-DES-1"], "range": ["#0000ff"]}}
                 }}
              ],
              "resolve": {"axis": {"x": "independent", "y": "independent"}}
            },
            {
              "width": 345, "height": 60,
              "layer": [
                {"data": {"name": "bands"}, "mark": "rect",
                 "encoding": {
                   "x": {"field": "start", "type": "quantitative", "scale": {"domain": [0, 1200], "nice": false}, "axis": {"orient": "top", "labels": false, "ticks": false, "grid": false, "title": "WiMAX.Throughput (bits/sec)", "titlePadding": 3}},
                   "x2": {"field": "end"},
                   "y": {"datum": 0, "type": "quantitative", "scale": {"domain": [0, 100000], "nice": false}, "axis": {"orient": "right", "labels": false, "ticks": false, "grid": false, "title": null}},
                   "y2": {"datum": 100000},
                   "fill": {"field": "shade", "type": "nominal", "scale": {"domain": ["a", "b", "c"], "range": ["#f0f0f0", "#e6e6e6", "#dcdcdc"]}, "legend": null}
                 }},
                {"data": {"name": "ts"}, "transform": [{"filter": "datum.p == 'R2'"}],
                 "mark": {"type": "point", "shape": "square", "filled": true, "opacity": 0},
                 "encoding": {
                   "x": {"field": "t", "type": "quantitative", "axis": null},
                   "y": {"field": "v", "type": "quantitative", "axis": null},
                   "color": {"field": "s", "type": "nominal", "scale": {"domain": ["Space A_B09_C08_D07_E03_F_S10-A05_F10_S10-DES-1"], "range": ["#ff0000"]}, "legend": {"title": null, "orient": "none", "legendX": 12, "legendY": -26, "symbolType": "square"}}
                 }},
                {"data": {"name": "ts"}, "transform": [{"filter": "datum.p == 'R2'"}],
                 "mark": {"type": "line", "strokeWidth": 2},
                 "encoding": {
                   "x": {"field": "t", "type": "quantitative", "scale": {"domain": [0, 1200], "nice": false}, "axis": {"orient": "bottom", "labels": false, "ticks": false, "title": null, "values": [200, 400, 600, 800, 1000]}},
                   "y": {"field": "v", "type": "quantitative", "scale": {"domain": [0, 100000], "nice": false}, "axis": {"orient": "left", "values": [0, 50000, 100000], "format": ",.0f", "title": null}},
                   "color": {"field": "s", "type": "nominal", "scale": {"domain": ["Space A_B09_C08_D07_E03_F_S10-A05_F10_S10-DES-1"], "range": ["#ff0000"]}}
                 }}
              ],
              "resolve": {"axis": {"x": "independent", "y": "independent"}}
            },
            {
              "width": 345, "height": 60,
              "layer": [
                {"data": {"name": "bands"}, "mark": "rect",
                 "encoding": {
                   "x": {"field": "start", "type": "quantitative", "scale": {"domain": [0, 1200], "nice": false}, "axis": {"orient": "top", "labels": false, "ticks": false, "grid": false, "title": "WiMAX.Throughput (bits/sec)", "titlePadding": 3}},
                   "x2": {"field": "end"},
                   "y": {"datum": 0, "type": "quantitative", "scale": {"domain": [0, 100000], "nice": false}, "axis": {"orient": "right", "labels": false, "ticks": false, "grid": false, "title": null}},
                   "y2": {"datum": 100000},
                   "fill": {"field": "shade", "type": "nominal", "scale": {"domain": ["a", "b", "c"], "range": ["#f0f0f0", "#e6e6e6", "#dcdcdc"]}, "legend": null}
                 }},
                {"data": {"name": "ts"}, "transform": [{"filter": "datum.p == 'R3'"}],
                 "mark": {"type": "point", "shape": "square", "filled": true, "opacity": 0},
                 "encoding": {
                   "x": {"field": "t", "type": "quantitative", "axis": null},
                   "y": {"field": "v", "type": "quantitative", "axis": null},
                   "color": {"field": "s", "type": "nominal", "scale": {"domain": ["Space A_B10_C08_D07_E03_F_S10-A05_F10_S10-DES-1"], "range": ["#00ee00"]}, "legend": {"title": null, "orient": "none", "legendX": 12, "legendY": -26, "symbolType": "square"}}
                 }},
                {"data": {"name": "ts"}, "transform": [{"filter": "datum.p == 'R3'"}],
                 "mark": {"type": "line", "strokeWidth": 2},
                 "encoding": {
                   "x": {"field": "t", "type": "quantitative", "scale": {"domain": [0, 1200], "nice": false}, "axis": {"orient": "bottom", "labels": false, "ticks": false, "title": null, "values": [200, 400, 600, 800, 1000]}},
                   "y": {"field": "v", "type": "quantitative", "scale": {"domain": [0, 100000], "nice": false}, "axis": {"orient": "left", "values": [0, 50000, 100000], "format": ",.0f", "title": null}},
                   "color": {"field": "s", "type": "nominal", "scale": {"domain": ["Space A_B10_C08_D07_E03_F_S10-A05_F10_S10-DES-1"], "range": ["#00ee00"]}}
                 }}
              ],
              "resolve": {"axis": {"x": "independent", "y": "independent"}}
            },
            {
              "width": 345, "height": 60,
              "layer": [
                {"data": {"name": "bands"}, "mark": "rect",
                 "encoding": {
                   "x": {"field": "start", "type": "quantitative", "scale": {"domain": [0, 1200], "nice": false}, "axis": {"orient": "top", "labels": false, "ticks": false, "grid": false, "title": "average (in WiMAX.Throughput (bits/sec))", "titlePadding": 3}},
                   "x2": {"field": "end"},
                   "y": {"datum": 0, "type": "quantitative", "scale": {"domain": [0, 100000], "nice": false}, "axis": {"orient": "right", "labels": false, "ticks": false, "grid": false, "title": null}},
                   "y2": {"datum": 100000},
                   "fill": {"field": "shade", "type": "nominal", "scale": {"domain": ["a", "b", "c"], "range": ["#f0f0f0", "#e6e6e6", "#dcdcdc"]}, "legend": null}
                 }},
                {"data": {"name": "ts"}, "transform": [{"filter": "datum.p == 'R4'"}],
                 "mark": {"type": "point", "shape": "square", "filled": true, "opacity": 0},
                 "encoding": {
                   "x": {"field": "t", "type": "quantitative", "axis": null},
                   "y": {"field": "v", "type": "quantitative", "axis": null},
                   "color": {"field": "s", "type": "nominal", "scale": {"domain": ["Space A_B05_C08_D07_E03_F_S10-A05_F10_S10-DES-1", "Space A_B09_C08_D07_E03_F_S10-A05_F10_S10-DES-1", "Space A_B10_C08_D07_E03_F_S10-A05_F10_S10-DES-1"], "range": ["#0000ff", "#ff0000", "#00ee00"]}, "legend": {"title": null, "orient": "none", "legendX": 12, "legendY": -54, "symbolType": "square"}}
                 }},
                {"data": {"name": "ts"}, "transform": [{"filter": "datum.p == 'R4'"}],
                 "mark": {"type": "line", "strokeWidth": 2},
                 "encoding": {
                   "x": {"field": "t", "type": "quantitative", "scale": {"domain": [0, 1200], "nice": false}, "axis": {"orient": "bottom", "values": [0, 200, 400, 600, 800, 1000, 1200], "format": ",.0f", "title": "time (sec)", "titleAnchor": "end", "titleFontSize": 12, "titlePadding": 4, "gridOpacity": {"condition": {"test": "datum.value == 0 || datum.value == 1200", "value": 0}, "value": 1}}},
                   "y": {"field": "v", "type": "quantitative", "scale": {"domain": [0, 100000], "nice": false}, "axis": {"orient": "left", "values": [0, 50000, 100000], "format": ",.0f", "title": null}},
                   "color": {"field": "s", "type": "nominal", "scale": {"domain": ["Space A_B05_C08_D07_E03_F_S10-A05_F10_S10-DES-1", "Space A_B09_C08_D07_E03_F_S10-A05_F10_S10-DES-1", "Space A_B10_C08_D07_E03_F_S10-A05_F10_S10-DES-1"], "range": ["#0000ff", "#ff0000", "#00ee00"]}}
                 }}
              ],
              "resolve": {"axis": {"x": "independent", "y": "independent"}}
            }
          ],
          "spacing": 6.5,
          "resolve": {"scale": {"color": "independent"}}
        }
      ],
      "spacing": 32,
      "resolve": {"scale": {"color": "independent"}}
    }
  ],
  "spacing": 8,
  "resolve": {"scale": {"color": "independent"}},
  "config": {
    "font": "Liberation Sans",
    "view": {"stroke": null},
    "axis": {
      "labelFont": "Liberation Sans", "labelFontSize": 11, "labelColor": "#000",
      "titleFont": "Liberation Sans", "titleFontSize": 11, "titleFontWeight": "normal", "titleColor": "#000",
      "domainColor": "#222", "domainWidth": 1.5, "tickColor": "#222", "tickSize": 5, "labelPadding": 2, "zindex": 1
    },
    "axisX": {"gridDash": [2, 2], "gridColor": "#666", "gridWidth": 1},
    "axisY": {"gridColor": "#999", "gridWidth": 1.5},
    "legend": {
      "labelFont": "Liberation Sans", "labelFontSize": 10.8, "labelColor": "#000", "labelLimit": 400,
      "symbolType": "square", "symbolSize": 49, "symbolStrokeColor": "#000", "symbolStrokeWidth": 1, "symbolOpacity": 1,
      "rowPadding": 1.5, "labelOffset": 5
    }
  }
}
